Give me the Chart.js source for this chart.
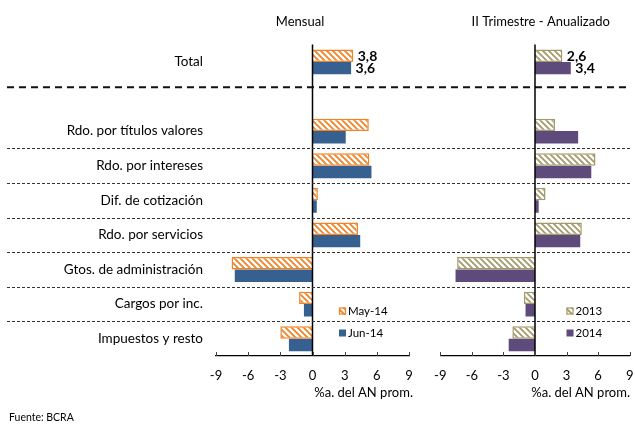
<!DOCTYPE html>
<html>
<head>
<meta charset="utf-8">
<script src="https://cdn.jsdelivr.net/npm/chart.js@4.4.1/dist/chart.umd.min.js"></script>
<style>
  html, body { margin: 0; padding: 0; background: #fff; }
  #wrap { position: relative; width: 635px; height: 424px; }
  #wrap canvas { position: absolute; left: 0; top: 0; }
</style>
</head>
<body>
<div id="wrap">
  <canvas id="mensual" width="635" height="424"></canvas>
  <canvas id="trimestre" width="635" height="424"></canvas>
</div>
<script>
// Row labels (the empty entry is the spacer row under "Total")
const categories = ['Total', '', 'Rdo. por títulos valores', 'Rdo. por intereses', 'Dif. de cotización',
  'Rdo. por servicios', 'Gtos. de administración', 'Cargos por inc.', 'Impuestos y resto'];

// Monthly series
const may14 = [3.8, null, 5.25, 5.3, 0.5, 4.25, -7.55, -1.25, -3.0];
const jun14 = [3.6, null, 3.1, 5.5, 0.4, 4.45, -7.25, -0.8, -2.2];

// Second-quarter annualized series
const y2013 = [2.6, null, 1.9, 5.75, 1.0, 4.45, -7.4, -1.05, -2.15];
const y2014 = [3.4, null, 4.1, 5.35, 0.35, 4.3, -7.55, -0.9, -2.5];

const xTicks = [-9, -6, -3, 0, 3, 6, 9];
const panelTitles = ['Mensual', 'II Trimestre - Anualizado'];
const axisTitle = '%a. del AN prom.';
const source = 'Fuente: BCRA';

const FONT = 'Lato, "Open Sans", sans-serif';
const ORANGE = '#ef8326';
const BLUE = '#36608f';
const KHAKI = '#a39a6c';
const PURPLE = '#5f4a7c';

function hatch(color) {
  const s = 6;
  const c = document.createElement('canvas');
  c.width = s; c.height = s;
  const g = c.getContext('2d');
  g.fillStyle = '#fff';
  g.fillRect(0, 0, s, s);
  g.strokeStyle = color;
  g.lineWidth = 1.8;
  g.beginPath();
  g.moveTo(-1, -1); g.lineTo(s + 1, s + 1);
  g.moveTo(s - 1, -1); g.lineTo(s + 1, 1);
  g.moveTo(-1, s - 1); g.lineTo(1, s + 1);
  g.stroke();
  return g.createPattern(c, 'repeat');
}

const fmt = v => v.toFixed(1).replace('.', ',');

// Overlay drawing for one panel: zero line, inner tick marks, titles,
// value labels on the Total row and the inline legend.
function panelPlugin(cfg) {
  return {
    id: 'panel' + cfg.idx,
    afterDatasetsDraw(chart) {
      const { ctx, chartArea: a, scales: { x, y } } = chart;
      ctx.save();
      // zero line
      const x0 = x.getPixelForValue(0);
      ctx.strokeStyle = '#000';
      ctx.lineWidth = 1.5;
      ctx.beginPath();
      ctx.moveTo(x0, a.top);
      ctx.lineTo(x0, a.bottom);
      ctx.stroke();
      // tick marks pointing up from the axis
      ctx.lineWidth = 1;
      ctx.strokeStyle = '#444';
      xTicks.forEach(t => {
        const px = Math.round(x.getPixelForValue(t)) + 0.5;
        ctx.beginPath();
        ctx.moveTo(px, a.bottom);
        ctx.lineTo(px, a.bottom - 4);
        ctx.stroke();
      });

      // separators across the whole figure (drawn once)
      if (cfg.idx === 0) {
        ctx.strokeStyle = '#111';
        ctx.lineWidth = 2;
        ctx.setLineDash([7, 5]);
        const yt = y.getPixelForValue(0.73);
        ctx.beginPath();
        ctx.moveTo(7, yt);
        ctx.lineTo(630, yt);
        ctx.stroke();
        ctx.lineWidth = 1;
        ctx.strokeStyle = '#333';
        ctx.setLineDash([3, 2]);
        for (let i = 2; i < categories.length - 1; i++) {
          const yy = Math.round((y.getPixelForValue(i) + y.getPixelForValue(i + 1)) / 2) + 0.5;
          ctx.beginPath();
          ctx.moveTo(7, yy);
          ctx.lineTo(630, yy);
          ctx.stroke();
        }
        ctx.setLineDash([]);
        ctx.fillStyle = '#000';
        ctx.font = '10.5px ' + FONT;
        ctx.textAlign = 'left';
        ctx.textBaseline = 'middle';
        ctx.fillText(source, 9, 418);
      }

      // panel title and axis title
      ctx.fillStyle = '#000';
      ctx.font = '13px ' + FONT;
      ctx.textAlign = 'center';
      ctx.textBaseline = 'middle';
      ctx.fillText(panelTitles[cfg.idx], cfg.titleX, 22);
      ctx.font = '13px ' + FONT;
      ctx.textAlign = 'right';
      ctx.fillText(axisTitle, cfg.axisTitleRight, 393);

      // value labels for the Total row
      ctx.font = 'bold 14px ' + FONT;
      ctx.textAlign = 'left';
      chart.data.datasets.forEach((ds, d) => {
        const bar = chart.getDatasetMeta(d).data[0];
        ctx.fillText(fmt(ds.data[0]), bar.x + 4.5, bar.y + (d === 0 ? 1 : 0.5));
      });

      // inline legend
      ctx.font = '11.5px ' + FONT;
      chart.data.datasets.forEach((ds, d) => {
        const ly = cfg.legendY[d];
        const lx = cfg.legendX;
        ctx.fillStyle = ds.backgroundColor;
        ctx.fillRect(lx, ly - 3.5, 7, 7);
        if (ds.borderWidth) {
          ctx.strokeStyle = ds.borderColor;
          ctx.lineWidth = 1.2;
          ctx.strokeRect(lx + 0.5, ly - 3, 6, 6);
        }
        ctx.fillStyle = '#000';
        ctx.fillText(ds.label, lx + 9, ly + 0.5);
      });
      ctx.restore();
    }
  };
}

function makeChart(id, idx, series, labels, fills, padding, showY, cfg) {
  const ctx = document.getElementById(id).getContext('2d');
  const datasets = series.map((s, i) => ({
    label: labels[i],
    data: s,
    backgroundColor: fills[i].bg,
    borderColor: fills[i].border,
    borderWidth: fills[i].hatched ? 1.5 : 0,
    borderSkipped: 'start',
    categoryPercentage: 0.72,
    barPercentage: 1.0
  }));
  const yScale = {
    display: showY,
    grid: { display: false, drawTicks: false },
    border: { display: false },
    ticks: { color: '#000', padding: 13, autoSkip: false, font: { family: FONT, size: 13.5 } }
  };
  if (showY) yScale.afterFit = scale => { scale.width = 216; };
  return new Chart(ctx, {
    type: 'bar',
    data: { labels: categories, datasets },
    options: {
      indexAxis: 'y',
      responsive: false,
      animation: false,
      devicePixelRatio: 1,
      layout: { padding },
      plugins: { legend: { display: false }, tooltip: { enabled: false }, title: { display: false } },
      scales: {
        x: {
          min: -9, max: 9,
          afterBuildTicks(scale) { scale.ticks = xTicks.map(v => ({ value: v })); },
          afterFit(scale) {
            scale.height = 50;
            scale.paddingLeft = 0;
            scale.paddingRight = 0;
          },
          grid: { display: false, drawTicks: false },
          border: { display: true, color: '#000', width: 1.2 },
          ticks: { color: '#000', padding: 12, font: { family: FONT, size: 13 }, callback: v => String(v) }
        },
        y: yScale
      }
    },
    plugins: [panelPlugin(cfg)]
  });
}

const orangeHatch = hatch(ORANGE);
const khakiHatch = hatch(KHAKI);

makeChart('mensual', 0, [may14, jun14], ['May-14', 'Jun-14'],
  [{ bg: orangeHatch, border: ORANGE, hatched: true }, { bg: BLUE, border: BLUE, hatched: false }],
  { left: 0, right: 226, top: 44.6, bottom: 18 }, true,
  { idx: 0, titleX: 300, axisTitleRight: 413, legendX: 339, legendY: [311, 333] });

makeChart('trimestre', 1, [y2013, y2014], ['2013', '2014'],
  [{ bg: khakiHatch, border: KHAKI, hatched: true }, { bg: PURPLE, border: PURPLE, hatched: false }],
  { left: 440.3, right: 5.3, top: 44.6, bottom: 18 }, false,
  { idx: 1, titleX: 540.7, axisTitleRight: 630, legendX: 566.5, legendY: [311, 333] });
</script>
</body>
</html>
